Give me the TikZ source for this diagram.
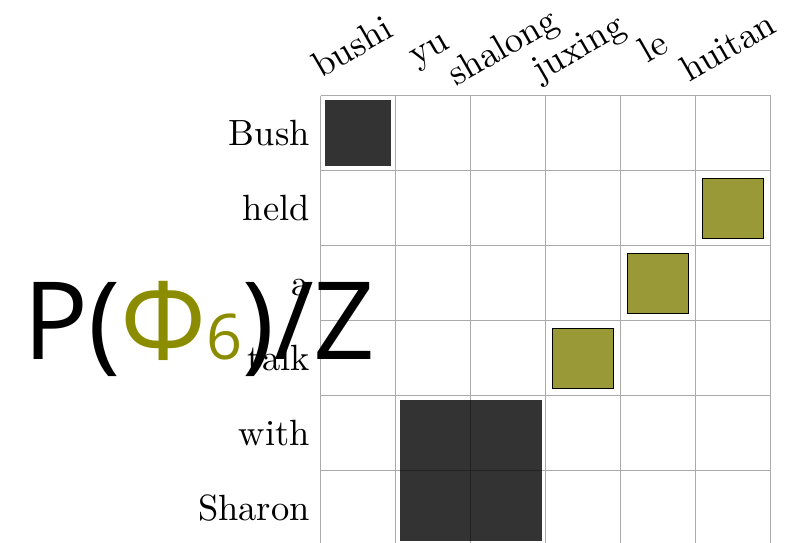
\documentclass[tikz,border=0pt]{standalone}
\usepackage{fontspec}
\newfontfamily\formulafont{Open Sans}
\newfontfamily\lmten{lmroman10-regular}[Extension=.otf]
\definecolor{olivetext}{RGB}{140,140,0}
\definecolor{olivebox}{RGB}{153,153,55}
\definecolor{gridgray}{RGB}{170,170,170}
\begin{document}
\begin{tikzpicture}[x=1pt,y=-1pt,
  gridline/.style={draw=gridgray,line width=0.9pt},
  darkbox/.style={fill=black,fill opacity=0.8,draw=none},
  olivecell/.style={fill=olivebox,draw=black,line width=0.9pt},
  rowlabel/.style={anchor=base east,inner sep=0pt,font=\lmten\fontsize{36.5}{40}\selectfont},
  collabel/.style={anchor=base,rotate=30,inner sep=0pt,font=\lmten\fontsize{36.5}{40}\selectfont},
  formula/.style={anchor=base west,inner sep=0pt}]
\useasboundingbox (0,0) rectangle (794,542);
% grid
\foreach \i in {0,...,6} {
  \draw[gridline] (320.5+75*\i,95.7) -- (320.5+75*\i,545.7);
  \draw[gridline] (320.5,95.7+75*\i) -- (770.5,95.7+75*\i);
}
% alignment boxes
\fill[darkbox] (324.8,100) rectangle (391.2,166.4);
\fill[darkbox] (399.8,400) rectangle (541.6,541.4);
\node[olivecell,minimum size=60.5pt,inner sep=0pt] (b1) at (733,208.2) {};
\node[olivecell,minimum size=60.5pt,inner sep=0pt] (b2) at (658,283.2) {};
\node[olivecell,minimum size=60.5pt,inner sep=0pt] (b3) at (583,358.2) {};
% row labels
\node[rowlabel] (r1) at (310,145.2) {Bush};
\node[rowlabel] (r2) at (310,220.2) {held};
\node[rowlabel] (r3) at (310,295.2) {a};
\node[rowlabel] (r4) at (310,370.2) {talk};
\node[rowlabel] (r5) at (310,445.2) {with};
\node[rowlabel] (r6) at (310,520.2) {Sharon};
% column labels
\node[collabel] (c1) at (358,57) {bushi};
\node[collabel] (c2) at (434,57) {yu};
\node[collabel] (c3) at (508,57) {shalong};
\node[collabel] (c4) at (584,57) {juxing};
\node[collabel] (c5) at (659,57) {le};
\node[collabel] (c6) at (734,57) {huitan};
% formula
\node[formula] (f) at (23,359) {\formulafont\fontsize{108}{120}\selectfont P(\textcolor{olivetext}{Φ\fontsize{63}{63}\selectfont 6})/Z};
\end{tikzpicture}
\end{document}
